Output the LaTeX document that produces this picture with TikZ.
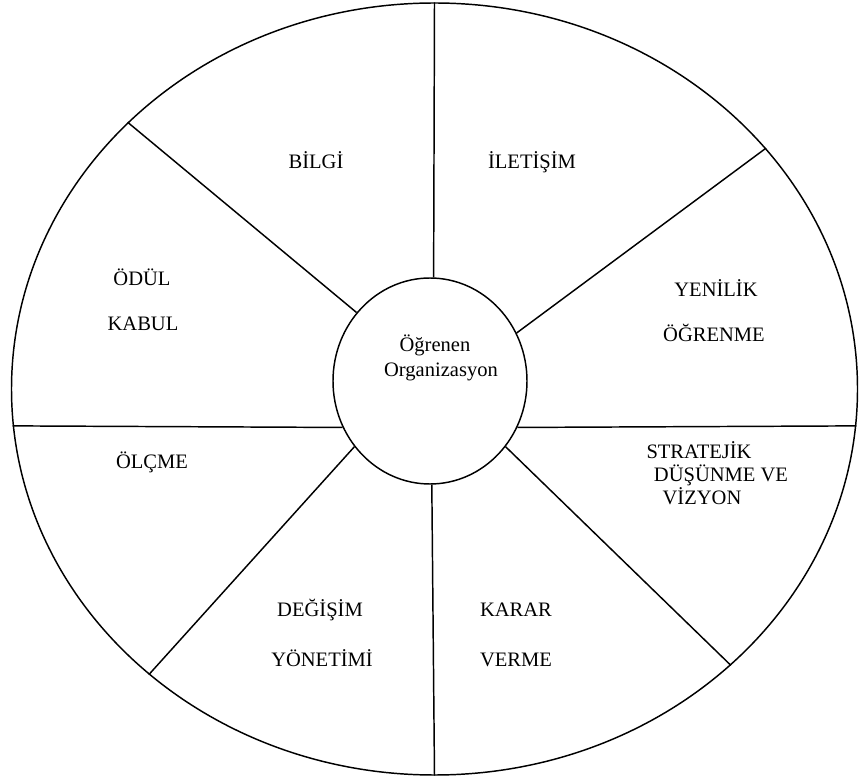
\documentclass[tikz,border=0pt]{standalone}
\usepackage{fontspec}
\setmainfont{Liberation Serif}
\usetikzlibrary{shapes.geometric}

\begin{document}
\begin{tikzpicture}[x=0.75pt, y=-0.75pt, line width=1.1pt,
    lbl/.style={font=\fontsize{15.4}{17.25}\selectfont, inner sep=0pt,
      text height=10.2pt, text depth=0pt},
    hubtxt/.style={font=\fontsize{15.4}{17.25}\selectfont, inner sep=0pt,
      anchor=base}]
  \useasboundingbox (0,0) rectangle (861,780);
  % Wheel and hub
  \node[draw, ellipse, inner sep=0pt, minimum width=634.5pt,
    minimum height=579pt] (rim) at (434.5,389) {};
  \node[draw, ellipse, inner sep=0pt, minimum width=145.5pt,
    minimum height=154.5pt] (hub) at (430,381) {};
  \node[hubtxt] (hubtop) at (435,352) {Öğrenen};
  \node[hubtxt] (hubbot) at (441,377) {Organizasyon};
  % Spokes
  \draw (hub.88) -- (rim.90);
  \draw (hub.29) -- (rim.36);
  \draw (hub.-28) -- (rim.-5);
  \draw (hub.-41) -- (rim.-43);
  \draw (hub.-89) -- (rim.-90);
  \draw (hub.-139.5) -- (rim.-135.3);
  \draw (hub.-152) -- (rim.-175);
  \draw (hub.137) -- (rim.139.6);
  % Segment labels
  \node[lbl] (bilgi) at (316,162) {BİLGİ};
  \node[lbl] (iletisim) at (532,162) {İLETİŞİM};
  \node[lbl] (yenilik) at (716,290) {YENİLİK};
  \node[lbl] (ogrenme) at (714,335) {ÖĞRENME};
  \node[lbl] (strateji) at (699,452) {STRATEJİK};
  \node[lbl] (dusunme) at (721,475) {DÜŞÜNME VE};
  \node[lbl] (vizyon) at (702,498) {VİZYON};
  \node[lbl] (karar) at (516,610) {KARAR};
  \node[lbl] (verme) at (516,660) {VERME};
  \node[lbl] (degisim) at (320,610) {DEĞİŞİM};
  \node[lbl] (yonetim) at (322,660) {YÖNETİMİ};
  \node[lbl] (olcme) at (152,462) {ÖLÇME};
  \node[lbl] (odul) at (142,279) {ÖDÜL};
  \node[lbl] (kabul) at (143,324) {KABUL};
\end{tikzpicture}
\end{document}
